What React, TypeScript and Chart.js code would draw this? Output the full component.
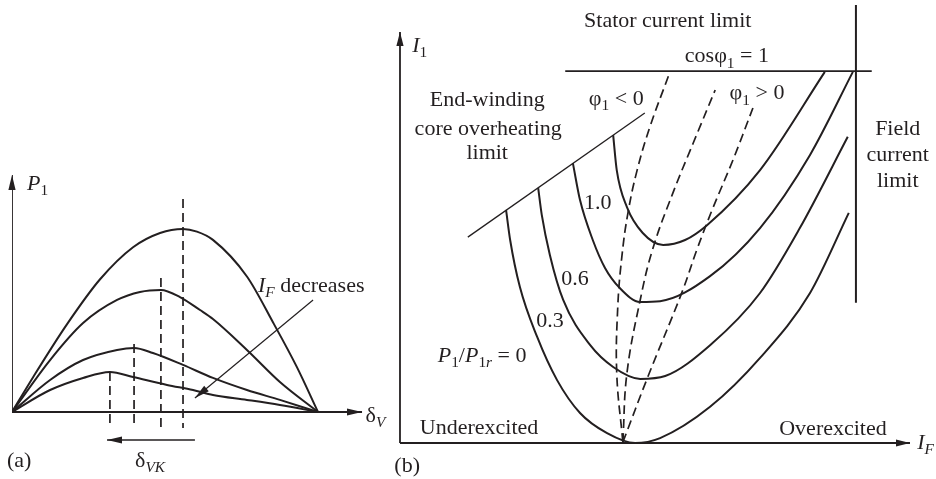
import React, { useEffect, useRef } from 'react';
import { Chart, registerables } from 'chart.js';

Chart.register(...registerables);

const FONT = '"Liberation Serif", "Times New Roman", serif';
const INK = '#231f20';

// ---------- Panel (a): P1 versus load angle delta_V ----------
const curveA1Delta = [0, 12.4, 32.4, 51.8, 71.2, 87.1, 100.6, 108.8, 118.2, 138.2, 153.5, 167.6, 180];
const curveA1P = [0, 0.19, 0.48, 0.725, 0.9, 0.978, 1.0, 0.985, 0.94, 0.74, 0.49, 0.245, 0];
const curveA2Delta = [0, 22.4, 41.8, 61.8, 75.3, 87.6, 98.8, 110.6, 118.2, 138.2, 157.6, 180];
const curveA2P = [0, 0.284, 0.486, 0.612, 0.656, 0.667, 0.628, 0.557, 0.508, 0.339, 0.164, 0];
const curveA3Delta = [0, 22.4, 41.8, 61.8, 71.8, 82.9, 100.6, 118.2, 138.2, 157.6, 180];
const curveA3P = [0, 0.175, 0.284, 0.339, 0.35, 0.322, 0.257, 0.186, 0.12, 0.066, 0];
const curveA4Delta = [0, 22.4, 41.8, 57.6, 71.2, 91.2, 106.5, 118.2, 138.2, 157.6, 180];
const curveA4P = [0, 0.12, 0.186, 0.219, 0.191, 0.148, 0.12, 0.093, 0.066, 0.038, 0];
const peakDelta = [100.6, 87.6, 71.8, 57.6];
const peakLineTop = [1.164, 0.732, 0.372, 0.219];
const peakLineBottom = -0.087;
const axisAMaxDelta = 205.9;
const axisAMaxP = 1.295;
const deltaVKArrowDelta = [107.6, 55.9];
const deltaVKArrowP = -0.153;
const ifArrowDelta = [177.1, 107.6];
const ifArrowP = [0.612, 0.0765];

// ---------- Panel (b): V-curves I1 versus I_F ----------
const vP0IF = [2.08, 2.16, 2.35, 2.69, 3.08, 3.53, 4.06, 4.61, 5.1, 6.08, 7.06, 8.04, 8.8];
const vP0I1 = [5.67, 4.94, 3.8, 2.58, 1.53, 0.73, 0.24, 0.0, 0.12, 0.88, 2.07, 3.65, 5.6];
const vP03IF = [2.71, 2.78, 2.94, 3.2, 3.73, 4.18, 4.71, 5.2, 6.08, 7.06, 7.84, 8.78];
const vP03I1 = [6.2, 5.55, 4.57, 3.48, 2.38, 1.85, 1.56, 1.63, 2.38, 3.65, 5.23, 7.45];
const vP06IF = [3.39, 3.53, 3.78, 4.02, 4.31, 4.71, 5.1, 6.08, 7.06, 8.04, 8.88];
const vP06I1 = [6.81, 5.91, 4.94, 4.26, 3.77, 3.43, 3.45, 4.06, 5.23, 7.01, 9.03];
const vP10IF = [4.18, 4.25, 4.45, 4.76, 5.16, 5.59, 6.02, 7.06, 8.33];
const vP10I1 = [7.49, 6.64, 5.74, 5.11, 4.82, 4.94, 5.3, 6.64, 9.03];

const phiNegIF = [4.37, 4.25, 4.27, 4.35, 4.47, 4.65, 4.9, 5.27];
const phiNegI1 = [0.02, 1.7, 3.31, 4.53, 5.6, 6.64, 7.69, 8.95];
const phiZeroIF = [4.37, 4.45, 4.71, 4.96, 5.35, 5.75, 6.18];
const phiZeroI1 = [0.02, 1.7, 3.48, 4.74, 6.08, 7.3, 8.59];
const phiPosIF = [4.37, 4.86, 5.53, 5.82, 6.12, 6.53, 6.92];
const phiPosI1 = [0.02, 1.61, 3.67, 4.7, 5.67, 6.89, 8.15];

const statorLimitIF = [3.24, 9.25];
const statorLimitI1 = 9.05;
const fieldLimitIF = 8.94;
const fieldLimitI1 = [3.41, 10.66];
const endWindingIF = [1.33, 4.8];
const endWindingI1 = [5.01, 8.03];
const axisBMaxIF = 10;
const axisBMaxI1 = 10;

type Part = { t: string; it?: boolean; sub?: boolean };
type Label = { x: number; y: number; align: 'left' | 'center'; parts: Part[]; size?: number };

const labelsA: Label[] = [
  { x: 8.8, y: 1.25, align: 'left', parts: [{ t: 'P', it: true }, { t: '1', sub: true }] },
  { x: 208, y: -0.016, align: 'left', parts: [{ t: 'δ' }, { t: 'V', it: true, sub: true }] },
  { x: 144.7, y: 0.694, align: 'left', parts: [{ t: 'I', it: true }, { t: 'F', it: true, sub: true }, { t: ' decreases' }] },
  { x: 72.4, y: -0.262, align: 'left', parts: [{ t: 'δ' }, { t: 'VK', it: true, sub: true }] },
  { x: -2.94, y: -0.262, align: 'left', parts: [{ t: '(a)' }] },
];

const labelsB: Label[] = [
  { x: 0.24, y: 9.68, align: 'left', parts: [{ t: 'I', it: true }, { t: '1', sub: true }] },
  { x: 10.14, y: 0.02, align: 'left', parts: [{ t: 'I', it: true }, { t: 'F', it: true, sub: true }] },
  { x: 5.25, y: 10.29, align: 'center', parts: [{ t: 'Stator current limit' }] },
  { x: 6.41, y: 9.42, align: 'center', parts: [{ t: 'cosφ' }, { t: '1', sub: true }, { t: ' = 1' }] },
  { x: 9.76, y: 7.66, align: 'center', parts: [{ t: 'Field' }] },
  { x: 9.76, y: 7.01, align: 'center', parts: [{ t: 'current' }] },
  { x: 9.76, y: 6.4, align: 'center', parts: [{ t: 'limit' }] },
  { x: 1.71, y: 8.35, align: 'center', parts: [{ t: 'End-winding' }] },
  { x: 1.73, y: 7.66, align: 'center', parts: [{ t: 'core overheating' }] },
  { x: 1.71, y: 7.08, align: 'center', parts: [{ t: 'limit' }] },
  { x: 4.24, y: 8.39, align: 'center', parts: [{ t: 'φ' }, { t: '1', sub: true }, { t: ' < 0' }] },
  { x: 7.0, y: 8.52, align: 'center', parts: [{ t: 'φ' }, { t: '1', sub: true }, { t: ' > 0' }] },
  { x: 3.88, y: 5.86, align: 'center', parts: [{ t: '1.0' }] },
  { x: 3.43, y: 4.01, align: 'center', parts: [{ t: '0.6' }] },
  { x: 2.94, y: 2.99, align: 'center', parts: [{ t: '0.3' }] },
  {
    x: 1.61, y: 2.14, align: 'center',
    parts: [{ t: 'P', it: true }, { t: '1', sub: true }, { t: '/' }, { t: 'P', it: true }, { t: '1', sub: true }, { t: 'r', it: true, sub: true }, { t: ' = 0' }],
  },
  { x: 1.55, y: 0.39, align: 'center', parts: [{ t: 'Underexcited' }] },
  { x: 8.49, y: 0.36, align: 'center', parts: [{ t: 'Overexcited' }] },
  { x: 0.14, y: -0.54, align: 'center', parts: [{ t: '(b)' }] },
];

const zip = (xs: number[], ys: number[]) => xs.map((x, i) => ({ x, y: ys[i] }));

function fontFor(p: Part, size: number) {
  const s = p.sub ? size * 0.7 : size;
  return `${p.it ? 'italic ' : ''}${s}px ${FONT}`;
}

function makeLabelPlugin(id: string, items: Label[]) {
  return {
    id,
    afterDraw(chart: any) {
      const ctx = chart.ctx as CanvasRenderingContext2D;
      const xs = chart.scales.x;
      const ys = chart.scales.y;
      ctx.save();
      ctx.fillStyle = INK;
      ctx.textBaseline = 'alphabetic';
      ctx.textAlign = 'left';
      for (const it of items) {
        const size = it.size ?? 22;
        let total = 0;
        const widths = it.parts.map((p) => {
          ctx.font = fontFor(p, size);
          const w = ctx.measureText(p.t).width;
          total += w;
          return w;
        });
        let px = xs.getPixelForValue(it.x);
        const base = ys.getPixelForValue(it.y) + size * 0.3;
        if (it.align === 'center') px -= total / 2;
        it.parts.forEach((p, i) => {
          ctx.font = fontFor(p, size);
          ctx.fillText(p.t, px, p.sub ? base + size * 0.25 : base);
          px += widths[i];
        });
      }
      ctx.restore();
    },
  };
}

const arrowPlugin = {
  id: 'arrowHeads',
  afterDatasetsDraw(chart: any) {
    const ctx = chart.ctx as CanvasRenderingContext2D;
    chart.data.datasets.forEach((ds: any, i: number) => {
      if (!ds.arrowHead) return;
      const pts = chart.getDatasetMeta(i).data;
      const a = pts[pts.length - 2];
      const b = pts[pts.length - 1];
      const ang = Math.atan2(b.y - a.y, b.x - a.x);
      const L = ds.arrowHead[0];
      const W = ds.arrowHead[1];
      const c = Math.cos(ang);
      const s = Math.sin(ang);
      ctx.save();
      ctx.fillStyle = INK;
      ctx.beginPath();
      ctx.moveTo(b.x, b.y);
      ctx.lineTo(b.x - L * c + W * s, b.y - L * s - W * c);
      ctx.lineTo(b.x - L * c - W * s, b.y - L * s + W * c);
      ctx.closePath();
      ctx.fill();
      ctx.restore();
    });
  },
};

function line(data: { x: number; y: number }[], extra: any = {}) {
  return {
    type: 'line',
    data,
    borderColor: INK,
    borderWidth: 2,
    pointRadius: 0,
    fill: false,
    tension: 0,
    ...extra,
  };
}

const smooth = { cubicInterpolationMode: 'monotone', borderWidth: 2 };
const dashed = { borderDash: [9, 5], borderWidth: 1.7 };

function baseOptions(padding: any, xr: [number, number], yr: [number, number]) {
  return {
    responsive: false,
    maintainAspectRatio: false,
    animation: false,
    events: [],
    layout: { padding },
    plugins: { legend: { display: false }, tooltip: { enabled: false }, title: { display: false } },
    scales: {
      x: { type: 'linear', min: xr[0], max: xr[1], display: false },
      y: { type: 'linear', min: yr[0], max: yr[1], display: false },
    },
  };
}

function configA(): any {
  const datasets: any[] = [
    line(zip(curveA1Delta, curveA1P), smooth),
    line(zip(curveA2Delta, curveA2P), smooth),
    line(zip(curveA3Delta, curveA3P), smooth),
    line(zip(curveA4Delta, curveA4P), smooth),
    ...peakDelta.map((d, i) => line([{ x: d, y: peakLineTop[i] }, { x: d, y: peakLineBottom }], dashed)),
    line([{ x: 0, y: 0 }, { x: axisAMaxDelta, y: 0 }], { borderWidth: 1.8, arrowHead: [15, 3.6] }),
    line([{ x: 0, y: 0 }, { x: 0, y: axisAMaxP }], { borderWidth: 1.8, arrowHead: [15, 3.6] }),
    line(zip(deltaVKArrowDelta, [deltaVKArrowP, deltaVKArrowP]), { borderWidth: 1.5, arrowHead: [15, 3.6] }),
    line(zip(ifArrowDelta, ifArrowP), { borderWidth: 1.2, arrowHead: [15, 3.6] }),
  ];
  return {
    type: 'line',
    data: { datasets },
    options: baseOptions({ left: 12, right: 550, top: 174, bottom: 0 }, [0, 220], [-0.366, 1.3]),
    plugins: [arrowPlugin, makeLabelPlugin('labelsA', labelsA)],
  };
}

function configB(): any {
  const datasets: any[] = [
    line(zip(vP0IF, vP0I1), smooth),
    line(zip(vP03IF, vP03I1), smooth),
    line(zip(vP06IF, vP06I1), smooth),
    line(zip(vP10IF, vP10I1), smooth),
    line(zip(phiNegIF, phiNegI1), { ...dashed, tension: 0.4 }),
    line(zip(phiZeroIF, phiZeroI1), { ...dashed, tension: 0.4 }),
    line(zip(phiPosIF, phiPosI1), { ...dashed, tension: 0.4 }),
    line(zip(statorLimitIF, [statorLimitI1, statorLimitI1]), { borderWidth: 1.8 }),
    line(zip([fieldLimitIF, fieldLimitIF], fieldLimitI1), { borderWidth: 2 }),
    line(zip(endWindingIF, endWindingI1), { borderWidth: 1.3 }),
    line([{ x: 0, y: 0 }, { x: axisBMaxIF, y: 0 }], { borderWidth: 1.8, arrowHead: [14, 3.6] }),
    line([{ x: 0, y: 0 }, { x: 0, y: axisBMaxI1 }], { borderWidth: 1.8, arrowHead: [14, 3.6] }),
  ];
  return {
    type: 'line',
    data: { datasets },
    options: baseOptions({ left: 380, right: 0, top: 0, bottom: 0 }, [-0.392, 10.51], [-0.876, 10.779]),
    plugins: [arrowPlugin, makeLabelPlugin('labelsB', labelsB)],
  };
}

export default function App() {
  const refA = useRef<HTMLCanvasElement>(null);
  const refB = useRef<HTMLCanvasElement>(null);

  useEffect(() => {
    const a = new Chart(refA.current as HTMLCanvasElement, configA());
    const b = new Chart(refB.current as HTMLCanvasElement, configB());
    return () => {
      a.destroy();
      b.destroy();
    };
  }, []);

  const cs: React.CSSProperties = { position: 'absolute', left: 0, top: 0, width: 936, height: 479 };
  return (
    <div style={{ position: 'absolute', left: 0, top: 0, width: 936, height: 479, background: '#fff' }}>
      <canvas ref={refA} width={936} height={479} style={cs} />
      <canvas ref={refB} width={936} height={479} style={cs} />
    </div>
  );
}
